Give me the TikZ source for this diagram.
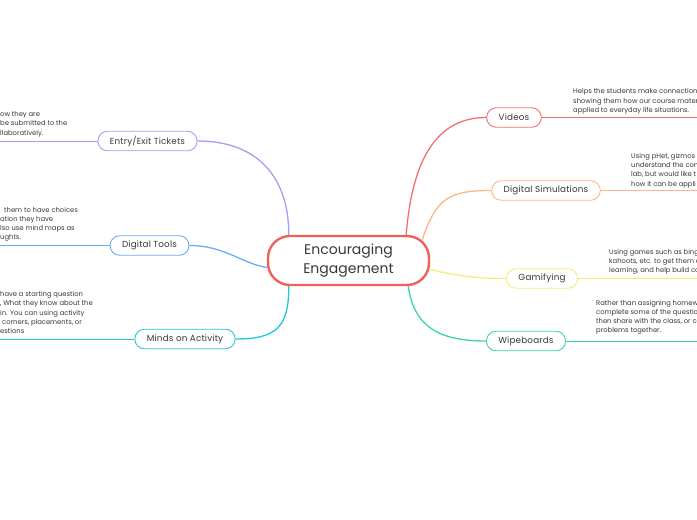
\documentclass[tikz,border=0pt]{standalone}
\usepackage{fontspec}
\setmainfont{Poppins}
\usetikzlibrary{positioning,backgrounds}
\definecolor{TopicRed}   {HTML}{F2605C}
\definecolor{VideoRed}   {HTML}{F47070}
\definecolor{SimPeach}   {HTML}{FDB58A}
\definecolor{GameYellow} {HTML}{F8EC78}
\definecolor{WipeGreen}  {HTML}{3CD6A2}
\definecolor{TicketLilac}{HTML}{A99BF8}
\definecolor{ToolBlue}   {HTML}{68AEF3}
\definecolor{MindsCyan}  {HTML}{1EC8D5}
\definecolor{InkGray}    {HTML}{383838}

\begin{document}
\begin{tikzpicture}[
  x=1pt, y=-1pt,
  topic/.style={
    draw=TopicRed, fill=white, line width=2.4pt,
    rounded corners=22pt, align=center,
    minimum width=161pt, minimum height=49pt,
    font=\fontsize{14}{19}\selectfont, text=InkGray
  },
  branch/.style={
    draw, fill=white, line width=0.9pt,
    rounded corners=9.5pt, minimum height=19.5pt,
    inner xsep=12pt,
    font=\fontsize{8.8}{10}\selectfont\addfontfeature{LetterSpace=2},
    text=InkGray
  },
  link/.style={line width=1.3pt},
  rule/.style={line width=1pt},
  leaf/.style={
    align=left, inner sep=0pt,
    font=\fontsize{6.8}{9.3}\selectfont,
    text=InkGray
  }
]
\useasboundingbox (0,0) rectangle (697,520);
\clip (0,0) rectangle (697,520);
\coordinate (leftedge) at (0,0);
\coordinate (rightedge) at (697,0);

\node[topic] (topic) at (348.5,260.5)
  {Encouraging\\Engagement};

\node[branch, draw=VideoRed] (videos) at (514,117.5) {Videos};
\node[branch, draw=SimPeach] (sims) at (546,190.5)
  {Digital Simulations};
\node[branch, draw=GameYellow] (gamify) at (542,278.5) {Gamifying};
\node[branch, draw=WipeGreen] (wipe) at (526,341) {Wipeboards};
\node[branch, draw=TicketLilac] (tickets) at (147.5,141)
  {Entry/Exit Tickets};
\node[branch, draw=ToolBlue] (tools) at (149.5,245.5) {Digital Tools};
\node[branch, draw=MindsCyan] (minds) at (185,339)
  {Minds on Activity};

\node[leaf, anchor=south west] (vidnote) at (573,114.5)
  {Helps the students make connections\\
   showing them how our course materi\\
   applied to everyday life situations.};
\node[leaf, anchor=south west] (simnote) at (631,188)
  {Using pHet, gizmos\\
   understand the con\\
   lab, but would like t\\
   how it can be appli};
\node[leaf, anchor=south west] (gamenote) at (609,275)
  {Using games such as bing\\
   kahoots, etc. to get them e\\
   learning, and help build co};
\node[leaf, anchor=south west] (wipenote) at (596,335)
  {Rather than assigning homew\\
   complete some of the questio\\
   then share with the class, or co\\
   problems together.};
\node[leaf, anchor=south west] (ticketnote) at (0,137)
  {ow they are\\
   be submitted to the\\
   llaboratively.};
\node[leaf, anchor=south west] (toolnote) at (0,242)
  {\hspace{4pt}them to have choices\\
   ation they have\\
   lso use mind maps as\\
   ughts.};
\node[leaf, anchor=south west] (mindnote) at (0,334)
  {have a starting question\\
   , What they know about the\\
   in. You can using activity\\
   \hspace{2pt}corners, placements, or\\
   estions};

\draw[rule, VideoRed] (videos.east) -- (videos.east -| rightedge);
\draw[rule, SimPeach] (sims.east) -- (sims.east -| rightedge);
\draw[rule, GameYellow] (gamify.east) -- (gamify.east -| rightedge);
\draw[rule, WipeGreen] (wipe.east) -- (wipe.east -| rightedge);
\draw[rule, TicketLilac] (tickets.west) -- (tickets.west -| leftedge);
\draw[rule, ToolBlue] (tools.west) -- (tools.west -| leftedge);
\draw[rule, MindsCyan] (minds.west) -- (minds.west -| leftedge);

\begin{scope}[on background layer]
\draw[link, VideoRed] ([xshift=-24pt]topic.north east)
  .. controls +(6,-75) and +(-50,0) .. (videos.west);
\draw[link, SimPeach] ([xshift=-8pt,yshift=-5pt]topic.north east)
  .. controls +(14,-42) and +(-42,0) .. (sims.west);
\draw[link, GameYellow] ([yshift=-9pt]topic.east)
  .. controls +(25,6) and +(-30,0) .. (gamify.west);
\draw[link, WipeGreen] ([xshift=-22pt]topic.south east)
  .. controls +(6,42) and +(-45,0) .. (wipe.west);
\draw[link, TicketLilac] (tickets.east)
  .. controls +(60,0) and +(0,-58) .. ([xshift=22pt]topic.north west);
\draw[link, ToolBlue] (tools.east)
  .. controls +(35,0) and +(-25,-4) .. ([yshift=-7pt]topic.west);
\draw[link, MindsCyan] (minds.east)
  .. controls +(42,0) and +(0,40) .. ([xshift=22pt]topic.south west);
\end{scope}
\end{tikzpicture}
\end{document}
